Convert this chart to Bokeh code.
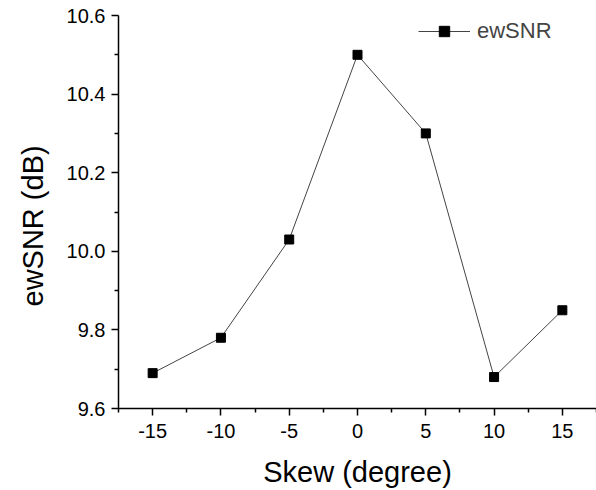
from bokeh.plotting import figure
from bokeh.models import (FixedTicker, NumeralTickFormatter, Range1d, Legend, LegendItem,
                          Title, ColumnDataSource)
from bokeh.embed import file_html
from bokeh.resources import INLINE

skew = [-15, -10, -5, 0, 5, 10, 15]
ewsnr = [9.69, 9.78, 10.03, 10.50, 10.30, 9.68, 9.85]
x_ticks = [-15, -10, -5, 0, 5, 10, 15]
x_minor = [-17.5, -12.5, -7.5, -2.5, 2.5, 7.5, 12.5, 17.5]
y_ticks = [9.6, 9.8, 10.0, 10.2, 10.4, 10.6]
y_minor = [9.7, 9.9, 10.1, 10.3, 10.5]

FONT = "Liberation Sans"

p = figure(width=596, height=490, output_backend="svg", toolbar_location=None,
           x_range=Range1d(-17.5, 17.5), y_range=Range1d(9.6, 10.6),
           min_border_left=118, min_border_right=0, min_border_top=15, min_border_bottom=82)
p.outline_line_color = None
p.grid.visible = False
p.background_fill_color = "white"
p.border_fill_color = "white"

src = ColumnDataSource(dict(x=skew, y=ewsnr))
ln = p.line("x", "y", source=src, line_color="#444444", line_width=1)
sc = p.scatter("x", "y", source=src, marker="square", size=9, fill_color="black",
               line_color="black")

for ax in (p.xaxis[0], p.yaxis[0]):
    ax.axis_line_width = 1.5
    ax.axis_line_color = "black"
    ax.major_tick_line_width = 1.5
    ax.minor_tick_line_width = 1.5
    ax.major_tick_out = 7
    ax.major_tick_in = 0
    ax.minor_tick_out = 4
    ax.minor_tick_in = 0
    ax.major_label_text_font = FONT
    ax.major_label_text_font_size = "20px"
    ax.major_label_text_color = "black"
    ax.axis_label_text_font = FONT
    ax.axis_label_text_font_size = "29px"
    ax.axis_label_text_font_style = "normal"
    ax.axis_label_text_color = "black"

p.xaxis[0].ticker = FixedTicker(ticks=x_ticks, minor_ticks=x_minor)
p.xaxis[0].formatter = NumeralTickFormatter(format="0")
p.yaxis[0].ticker = FixedTicker(ticks=y_ticks, minor_ticks=y_minor)
p.yaxis[0].formatter = NumeralTickFormatter(format="0.0")
p.xaxis[0].major_label_standoff = 8
p.yaxis[0].major_label_standoff = 6
p.xaxis[0].axis_label = "Skew (degree)"
p.xaxis[0].axis_label_standoff = 15

# y-axis title (placed below the frame centre as in the reference)
ytitle = Title(text="ewSNR (dB)", align="left", offset=102, standoff=29,
               text_font=FONT, text_font_size="29px", text_font_style="normal",
               text_color="black")
p.add_layout(ytitle, "left")

legend = Legend(items=[LegendItem(label="ewSNR", renderers=[ln, sc])],
                location=(300, 364), glyph_width=52, glyph_height=26,
                label_standoff=7, label_height=26,
                label_text_font=FONT, label_text_font_size="22px",
                padding=0, margin=0, border_line_color=None,
                background_fill_alpha=0)
p.add_layout(legend)

open("out.html", "w").write(file_html(p, INLINE))
